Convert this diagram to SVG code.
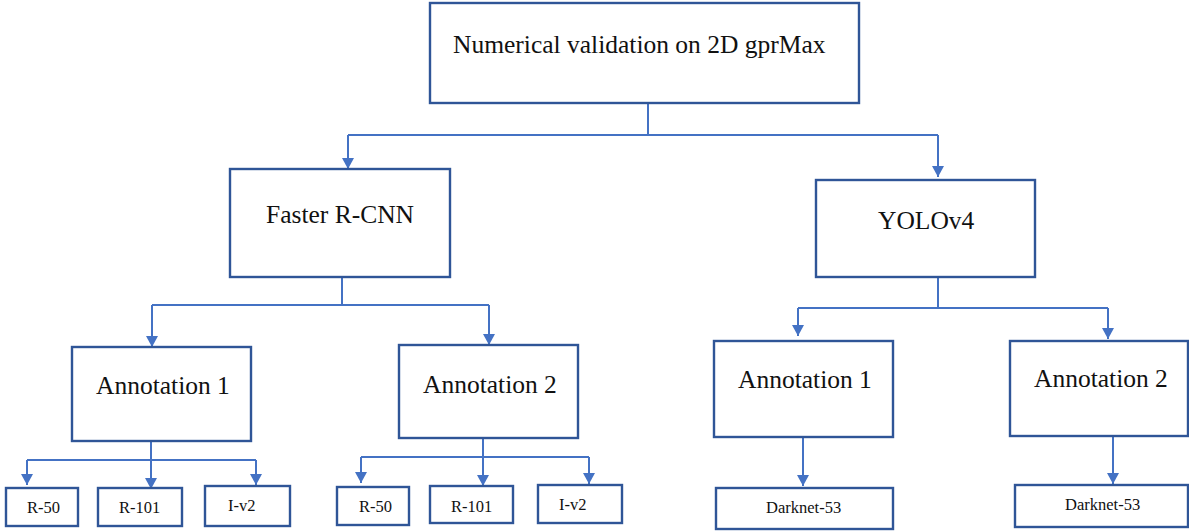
<svg xmlns="http://www.w3.org/2000/svg" width="1189" height="531" viewBox="0 0 1189 531">
<style>
.box{fill:#fff;stroke:#2F5597;stroke-width:2.4}
.t{font-family:"Liberation Serif","Times New Roman",serif;fill:#111}
.big{font-size:25.5px}
.sm{font-size:16.5px}
.c{fill:none;stroke:#4472C4;stroke-width:2}
</style>
<defs>
<marker id="arr" viewBox="0 0 11 12" refX="11" refY="6" markerWidth="11" markerHeight="12" markerUnits="userSpaceOnUse" orient="auto">
<path d="M0,0 L11,6 L0,12 z" fill="#4472C4"/>
</marker>
</defs>
<g id="connectors">
<path class="c" d="M648,103 V135 M348,135 H938"/>
<path class="c" d="M348,135 V169" marker-end="url(#arr)"/>
<path class="c" d="M938,135 V177" marker-end="url(#arr)"/>
<path class="c" d="M342,277 V305 M152,305 H489"/>
<path class="c" d="M152,305 V347" marker-end="url(#arr)"/>
<path class="c" d="M489,305 V345" marker-end="url(#arr)"/>
<path class="c" d="M938,277 V308 M798,308 H1108"/>
<path class="c" d="M798,308 V336" marker-end="url(#arr)"/>
<path class="c" d="M1108,308 V339" marker-end="url(#arr)"/>
<path class="c" d="M151,441 V460 M27,460 H256"/>
<path class="c" d="M27,460 V485" marker-end="url(#arr)"/>
<path class="c" d="M151,460 V489" marker-end="url(#arr)"/>
<path class="c" d="M256,460 V485" marker-end="url(#arr)"/>
<path class="c" d="M483,438 V457 M361,457 H589"/>
<path class="c" d="M361,457 V483" marker-end="url(#arr)"/>
<path class="c" d="M483,457 V486" marker-end="url(#arr)"/>
<path class="c" d="M589,457 V484" marker-end="url(#arr)"/>
<path class="c" d="M803,437 V486" marker-end="url(#arr)"/>
<path class="c" d="M1113,436 V484" marker-end="url(#arr)"/>
</g>
<g id="root"><rect class="box" x="430" y="3" width="429" height="100"/><text class="t big" x="453" y="53">Numerical validation on 2D gprMax</text></g>
<g id="faster"><rect class="box" x="230" y="169" width="220" height="108"/><text class="t big" x="266" y="223">Faster R-CNN</text></g>
<g id="yolo"><rect class="box" x="816" y="180" width="219" height="97"/><text class="t big" x="878" y="229">YOLOv4</text></g>
<g id="f-ann1"><rect class="box" x="72" y="347" width="179" height="94"/><text class="t big" x="96" y="394">Annotation 1</text></g>
<g id="f-ann2"><rect class="box" x="399" y="345" width="179" height="93"/><text class="t big" x="423" y="393">Annotation 2</text></g>
<g id="y-ann1"><rect class="box" x="714" y="341" width="179" height="96"/><text class="t big" x="738" y="388">Annotation 1</text></g>
<g id="y-ann2"><rect class="box" x="1010" y="341" width="178" height="95"/><text class="t big" x="1034" y="387">Annotation 2</text></g>
<g id="f1-r50"><rect class="box" x="6" y="488" width="72" height="38"/><text class="t sm" x="27" y="513">R-50</text></g>
<g id="f1-r101"><rect class="box" x="98" y="488" width="84" height="38"/><text class="t sm" x="119" y="513">R-101</text></g>
<g id="f1-iv2"><rect class="box" x="205" y="486" width="85" height="40"/><text class="t sm" x="228" y="511">I-v2</text></g>
<g id="f2-r50"><rect class="box" x="337" y="487" width="72" height="38"/><text class="t sm" x="359" y="512">R-50</text></g>
<g id="f2-r101"><rect class="box" x="430" y="486" width="83" height="37"/><text class="t sm" x="451" y="512">R-101</text></g>
<g id="f2-iv2"><rect class="box" x="538" y="485" width="84" height="38"/><text class="t sm" x="559" y="510">I-v2</text></g>
<g id="y1-dark"><rect class="box" x="716" y="488" width="177" height="41"/><text class="t sm" x="766" y="513">Darknet-53</text></g>
<g id="y2-dark"><rect class="box" x="1015" y="485" width="173" height="42"/><text class="t sm" x="1065" y="510">Darknet-53</text></g>
</svg>
